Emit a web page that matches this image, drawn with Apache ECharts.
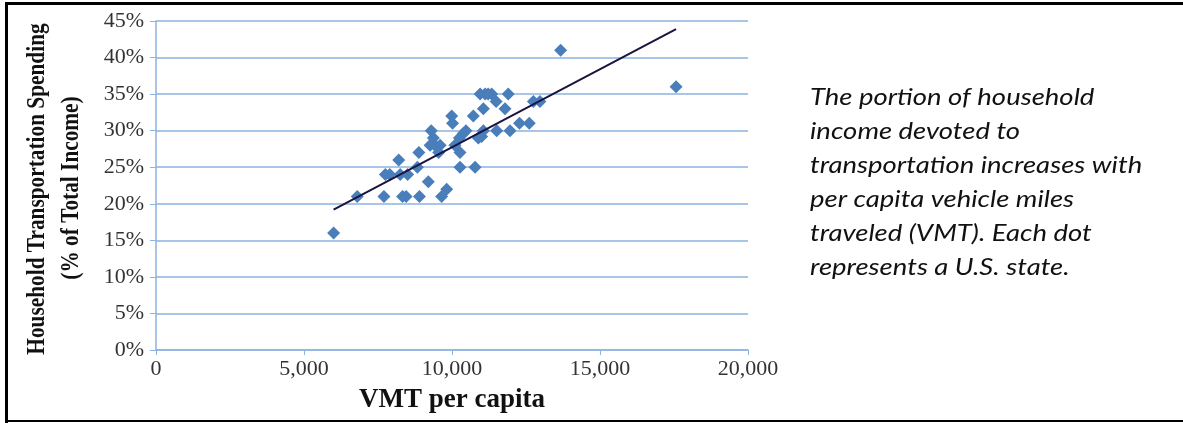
<!doctype html>
<html>
    <head>
        <meta charset="utf-8">
        <title>VMT vs transportation spending</title>
        <style>
            html, body { margin: 0; padding: 0; background: #fff; }
            #main { width: 1183px; height: 423px; }
        </style>
    </head>
    <body>
        <div id="main"></div>
        <script src="https://cdn.jsdelivr.net/npm/echarts@6/dist/echarts.min.js"></script>
        <script>
            // one point per state: [VMT per capita, % of income]
            var vmt = [6000, 6800, 7700, 7750, 7900, 8200, 8250, 8330, 8450, 8500,
                8830, 8880, 8900, 9200, 9300, 9370, 9260, 9420, 9600, 9550,
                9650, 9820, 9990, 10020, 10250, 10270, 10270, 10380, 10470, 10720,
                10780, 10890, 11000, 10950, 11120, 11340, 11490, 11060, 11060, 11510,
                11790, 11900, 11960, 12280, 12610, 12750, 12970, 13670, 17570, 10100,
                11220];
            var spending = [16, 21, 21, 24, 24, 26, 24, 21, 21, 24,
                25, 27, 21, 23, 30, 29, 28, 28, 28, 27,
                21, 22, 32, 31, 29, 27, 25, 29.6, 30, 32,
                25, 29, 29.2, 35, 35, 35, 34, 33, 30, 30,
                33, 35, 30, 31, 31, 34, 34, 41, 36, 28,
                35];

            // trend line end points
            var trendX = [6000, 17570];
            var trendY = [19.2, 43.9];

            var xTicks = { min: 0, max: 20000, step: 5000 };
            var yTicks = { min: 0, max: 45, step: 5 };

            var caption = [
                'The portion of household',
                'income devoted to',
                'transportation increases with',
                'per capita vehicle miles',
                'traveled (VMT). Each dot',
                'represents a U.S. state.'
            ];

            var points = vmt.map(function (v, i) { return [v, spending[i]]; });
            var trend = trendX.map(function (v, i) { return [v, trendY[i]]; });

            var blue = '#8db3e2';
            var serif = '"Liberation Serif", "DejaVu Serif", serif';

            var chart = echarts.init(document.getElementById('main'));

            chart.setOption({
                animation: false,
                grid: { left: 156, right: 435, top: 21, bottom: 73 },
                xAxis: {
                    type: 'value',
                    min: xTicks.min,
                    max: xTicks.max,
                    interval: xTicks.step,
                    name: 'VMT per capita',
                    nameLocation: 'middle',
                    nameGap: 37,
                    nameTextStyle: { fontFamily: serif, fontWeight: 'bold', fontSize: 27, color: '#111' },
                    axisLine: { lineStyle: { color: blue, width: 1.5 } },
                    axisTick: { show: true, length: 5, lineStyle: { color: blue } },
                    axisLabel: {
                        fontFamily: serif, fontSize: 22, color: '#333', margin: 8,
                        formatter: function (v) { return v.toLocaleString('en-US'); }
                    },
                    splitLine: { show: false }
                },
                yAxis: {
                    type: 'value',
                    min: yTicks.min,
                    max: yTicks.max,
                    interval: yTicks.step,
                    axisLine: { show: true, lineStyle: { color: blue, width: 1.5 } },
                    axisTick: { show: true, length: 6, lineStyle: { color: blue } },
                    axisLabel: {
                        fontFamily: serif, fontSize: 22, color: '#333', margin: 12,
                        formatter: '{value}%'
                    },
                    splitLine: { lineStyle: { color: blue, width: 1.5 } }
                },
                graphic: [
                    {
                        type: 'text',
                        x: 37, y: 189,
                        rotation: Math.PI / 2,
                        scaleX: 0.82,
                        style: {
                            text: 'Household Transportation Spending',
                            font: 'bold 26px ' + serif,
                            fill: '#111',
                            align: 'center',
                            verticalAlign: 'middle'
                        }
                    },
                    {
                        type: 'text',
                        x: 71, y: 188,
                        rotation: Math.PI / 2,
                        scaleX: 0.82,
                        style: {
                            text: '(% of Total Income)',
                            font: 'bold 26px ' + serif,
                            fill: '#111',
                            align: 'center',
                            verticalAlign: 'middle'
                        }
                    },
                    {
                        type: 'text',
                        x: 810, y: 80,
                        scaleX: 1.145,
                        style: {
                            text: caption.join('\n'),
                            font: 'italic 24px Lato, "Open Sans", sans-serif',
                            lineHeight: 34,
                            fill: '#111'
                        }
                    },
                    { type: 'rect', shape: { x: 5, y: 2, width: 1178, height: 3 }, style: { fill: '#000' } },
                    { type: 'rect', shape: { x: 5, y: 2, width: 3, height: 421 }, style: { fill: '#000' } },
                    { type: 'rect', shape: { x: 5, y: 420, width: 1178, height: 2 }, style: { fill: '#000' } }
                ],
                series: [
                    {
                        type: 'scatter',
                        data: points,
                        symbol: 'diamond',
                        symbolSize: [13, 13],
                        itemStyle: { color: '#4a7ebb', opacity: 1 },
                        z: 3
                    },
                    {
                        type: 'line',
                        data: trend,
                        symbol: 'none',
                        lineStyle: { color: '#1a1440', width: 2 },
                        z: 4
                    }
                ]
            });

            window.onresize = chart.resize;
        </script>
    </body>
</html>
